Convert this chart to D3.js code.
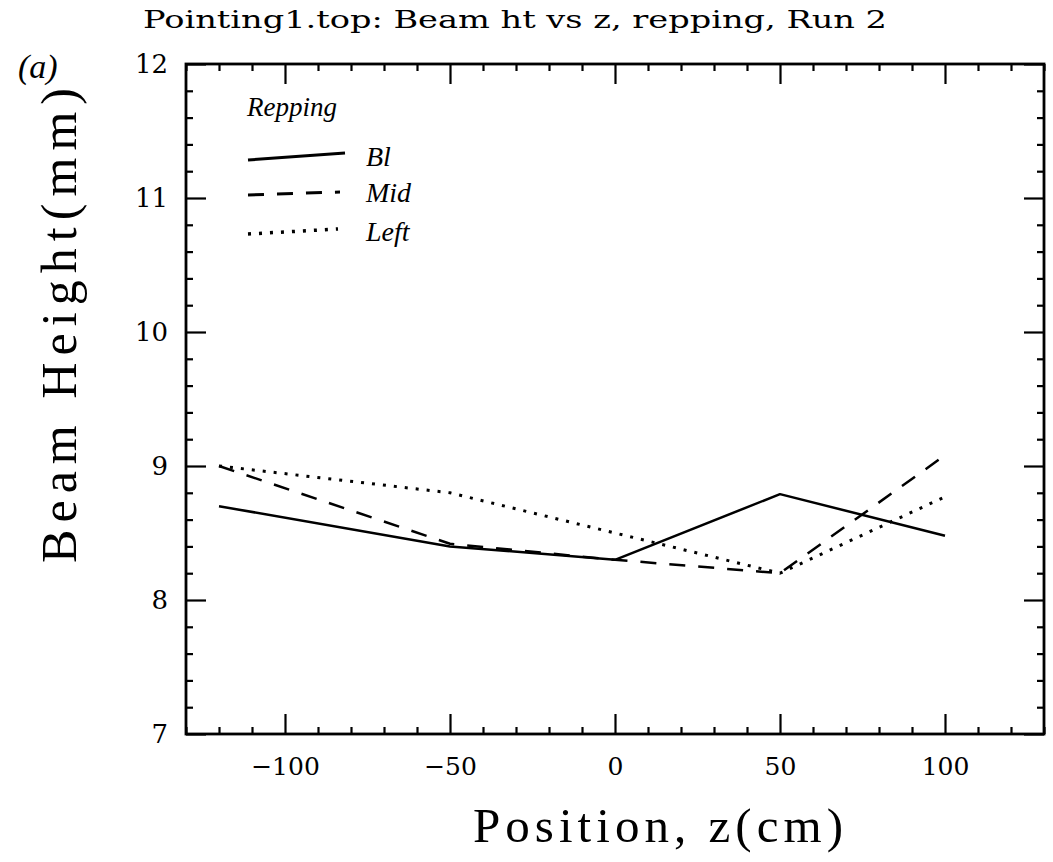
<!DOCTYPE html>
<html>
<head>
<meta charset="utf-8">
<script src="https://cdn.jsdelivr.net/npm/d3@7/dist/d3.min.js"></script>
<style>
  html, body { margin: 0; padding: 0; background: #fff; }
  svg { display: block; }
  .serif { font-family: "DejaVu Serif", "Liberation Serif", serif; fill: #000; }
  .light { font-family: "Liberation Serif", "DejaVu Serif", serif; fill: #000; }
  .hand { font-family: "Liberation Serif", "DejaVu Serif", serif; font-style: italic; fill: #000; }
</style>
</head>
<body>
<svg id="chart" width="1053" height="862"></svg>
<script>
// Beam height measurements along z for three repping settings
const positions = [-120, -50, 0, 50, 100];
const seriesNames = ["Bl", "Mid", "Left"];
const heightBl   = [8.70, 8.40, 8.30, 8.79, 8.48];
const heightMid  = [9.00, 8.42, 8.30, 8.20, 9.08];
const heightLeft = [9.00, 8.80, 8.50, 8.20, 8.77];

const xMajorTicks = [-100, -50, 0, 50, 100];
const yMajorTicks = [7, 8, 9, 10, 11, 12];
const xDomain = [-130, 130];
const yDomain = [7, 12];

const titleText = "Pointing1.top: Beam ht vs z, repping, Run 2";
const xLabelText = "Position, z(cm)";
const yLabelText = "Beam Height(mm)";
const legendTitle = "Repping";

const svg = d3.select("#chart");
const plot = { left: 186, right: 1044, top: 64, bottom: 734 };

const x = d3.scaleLinear().domain(xDomain).range([plot.left, plot.right]);
const y = d3.scaleLinear().domain(yDomain).range([plot.bottom, plot.top]);

const xMinor = d3.range(-130, 131, 10).filter(v => !xMajorTicks.includes(v));
const yMinor = d3.range(7, 12.001, 0.2).map(v => +v.toFixed(1)).filter(v => !yMajorTicks.includes(v));

const MAJ = 20, MIN = 7;

function styleAxis(g) {
  g.select(".domain").remove();
  g.selectAll(".tick line").attr("stroke", "#000").attr("stroke-width", 2.2);
}

// bottom axis: major ticks with labels, minor ticks without
svg.append("g").attr("transform", `translate(0,${plot.bottom})`)
  .call(d3.axisBottom(x).tickValues(xMajorTicks).tickSize(-MAJ).tickPadding(23)
    .tickFormat(d => d < 0 ? "\u2212" + Math.abs(d) : d))
  .call(styleAxis)
  .call(g => g.selectAll("text").attr("class", "serif").attr("font-size", 25).attr("fill", "#000"));
svg.append("g").attr("transform", `translate(0,${plot.bottom})`)
  .call(d3.axisBottom(x).tickValues(xMinor).tickSize(-MIN).tickFormat(""))
  .call(styleAxis);

// top axis
svg.append("g").attr("transform", `translate(0,${plot.top})`)
  .call(d3.axisTop(x).tickValues(xMajorTicks).tickSize(-MAJ).tickFormat(""))
  .call(styleAxis);
svg.append("g").attr("transform", `translate(0,${plot.top})`)
  .call(d3.axisTop(x).tickValues(xMinor).tickSize(-MIN).tickFormat(""))
  .call(styleAxis);

// left axis
svg.append("g").attr("transform", `translate(${plot.left},0)`)
  .call(d3.axisLeft(y).tickValues(yMajorTicks).tickSize(-MAJ).tickPadding(18).tickFormat(d3.format("d")))
  .call(styleAxis)
  .call(g => g.selectAll("text").attr("class", "serif").attr("font-size", 26).attr("fill", "#000"));
svg.append("g").attr("transform", `translate(${plot.left},0)`)
  .call(d3.axisLeft(y).tickValues(yMinor).tickSize(-MIN).tickFormat(""))
  .call(styleAxis);

// right axis
svg.append("g").attr("transform", `translate(${plot.right},0)`)
  .call(d3.axisRight(y).tickValues(yMajorTicks).tickSize(-MAJ).tickFormat(""))
  .call(styleAxis);
svg.append("g").attr("transform", `translate(${plot.right},0)`)
  .call(d3.axisRight(y).tickValues(yMinor).tickSize(-MIN).tickFormat(""))
  .call(styleAxis);

// frame
svg.append("rect")
  .attr("x", plot.left).attr("y", plot.top)
  .attr("width", plot.right - plot.left).attr("height", plot.bottom - plot.top)
  .attr("fill", "none").attr("stroke", "#000").attr("stroke-width", 2.8);

// data lines
const styles = {
  Bl:   { dash: null,     width: 2.5 },
  Mid:  { dash: "16,13",  width: 2.5 },
  Left: { dash: "3,8",    width: 3 }
};
const seriesValues = { Bl: heightBl, Mid: heightMid, Left: heightLeft };

const line = d3.line().x(d => x(d[0])).y(d => y(d[1]));

seriesNames.forEach(name => {
  const pts = positions.map((p, i) => [p, seriesValues[name][i]]);
  svg.append("path")
    .datum(pts)
    .attr("d", line)
    .attr("fill", "none")
    .attr("stroke", "#000")
    .attr("stroke-width", styles[name].width)
    .attr("stroke-linejoin", "round")
    .attr("stroke-dasharray", styles[name].dash);
});

// hand-annotated legend
svg.append("text").attr("class", "hand")
  .attr("x", 247).attr("y", 116).attr("font-size", 27).text(legendTitle);

const legendRows = [
  { name: "Bl",   y1: 160, y2: 153, x2: 345, ty: 166 },
  { name: "Mid",  y1: 195, y2: 192, x2: 340, ty: 202 },
  { name: "Left", y1: 234, y2: 229, x2: 338, ty: 241 }
];
legendRows.forEach(r => {
  svg.append("line")
    .attr("x1", 248).attr("y1", r.y1).attr("x2", r.x2).attr("y2", r.y2)
    .attr("stroke", "#000")
    .attr("stroke-width", styles[r.name].width + 0.5)
    .attr("stroke-dasharray", styles[r.name].dash);
  svg.append("text").attr("class", "hand")
    .attr("x", 366).attr("y", r.ty).attr("font-size", 28).text(r.name);
});

// panel tag
svg.append("text").attr("class", "hand")
  .attr("x", 18).attr("y", 78).attr("font-size", 34).text("(a)");

// title
svg.append("text").attr("class", "serif")
  .attr("x", 143).attr("y", 28).attr("font-size", 24)
  .attr("textLength", 744).attr("lengthAdjust", "spacingAndGlyphs")
  .text(titleText);

// axis titles
svg.append("text").attr("class", "light")
  .attr("x", 473).attr("y", 842).attr("font-size", 49)
  .attr("textLength", 370).attr("lengthAdjust", "spacing")
  .text(xLabelText);

svg.append("text").attr("class", "light")
  .attr("transform", "translate(76,563) rotate(-90)")
  .attr("font-size", 50)
  .attr("textLength", 475).attr("lengthAdjust", "spacing")
  .text(yLabelText);
</script>
</body>
</html>
